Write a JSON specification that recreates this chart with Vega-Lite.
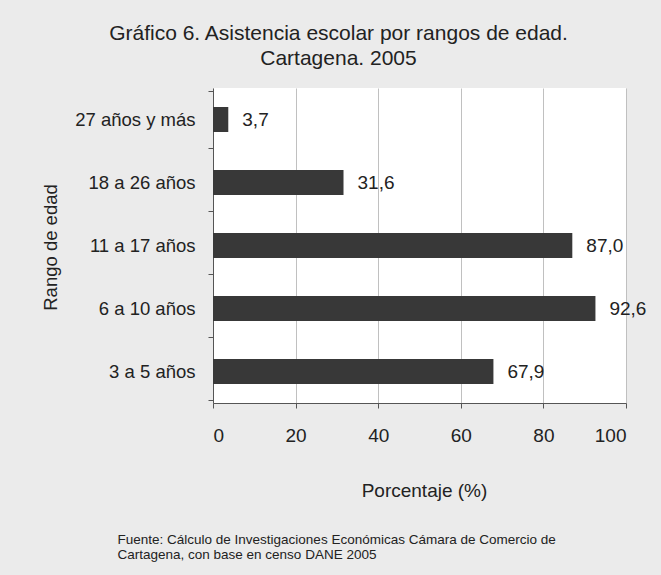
{
  "$schema": "https://vega.github.io/schema/vega-lite/v6.json",
  "width": 413,
  "height": 315,
  "autosize": {"type": "none"},
  "padding": {"left": 213, "top": 88, "right": 35, "bottom": 172},
  "background": "#ebebeb",
  "config": {
    "font": "Liberation Sans",
    "view": {"fill": "white", "stroke": null}
  },
  "title": {
    "text": ["Gráfico 6. Asistencia escolar por rangos de edad.", "Cartagena.  2005"],
    "fontSize": 21,
    "fontWeight": "normal",
    "color": "#222222",
    "anchor": "middle",
    "frame": "group",
    "dx": -81,
    "offset": 10,
    "lineHeight": 25
  },
  "data": {
    "values": [
      {"rango": "27 años y más", "valor": 3.7, "etiqueta": "3,7"},
      {"rango": "18 a 26 años", "valor": 31.6, "etiqueta": "31,6"},
      {"rango": "11 a 17 años", "valor": 87.0, "etiqueta": "87,0"},
      {"rango": "6 a 10 años", "valor": 92.6, "etiqueta": "92,6"},
      {"rango": "3 a 5 años", "valor": 67.9, "etiqueta": "67,9"}
    ]
  },
  "layer": [
    {
      "mark": {"type": "bar", "color": "#383838", "height": 25},
      "encoding": {
        "y": {
          "field": "rango",
          "type": "nominal",
          "sort": null,
          "axis": {
            "title": "Rango de edad",
            "titleFontSize": 18.5,
            "titleFontWeight": "normal",
            "titleColor": "#222222",
            "titleX": -153,
            "titleY": 159,
            "titleAngle": -90,
            "labelFontSize": 18.5,
            "labelColor": "#222222",
            "labelPadding": 13,
            "tickBand": "extent",
            "tickSize": 5,
            "tickColor": "#555555",
            "domainColor": "#555555",
            "grid": false
          }
        },
        "x": {
          "field": "valor",
          "type": "quantitative",
          "scale": {"domain": [0, 100], "nice": false},
          "axis": {
            "orient": "bottom",
            "title": "Porcentaje (%)",
            "titleFontSize": 19,
            "titleFontWeight": "normal",
            "titleColor": "#222222",
            "titlePadding": 36,
            "titleX": 211,
            "values": [0, 20, 40, 60, 80, 100],
            "labelFontSize": 19,
            "labelColor": "#222222",
            "labelPadding": 18,
            "tickSize": 5,
            "tickColor": "#555555",
            "domainColor": "#555555",
            "grid": true,
            "gridColor": "#c0c0c0"
          }
        }
      }
    },
    {
      "mark": {"type": "text", "align": "left", "dx": 14, "fontSize": 19, "color": "#222222"},
      "encoding": {
        "y": {"field": "rango", "type": "nominal", "sort": null},
        "x": {
          "field": "valor",
          "type": "quantitative",
          "scale": {"domain": [0, 100], "nice": false},
          "axis": {
            "orient": "bottom",
            "title": ["Fuente: Cálculo de Investigaciones  Económicas Cámara de Comercio de", "Cartagena, con base en censo DANE 2005"],
            "titleFontSize": 13.5,
            "titleFontWeight": "normal",
            "titleColor": "#222222",
            "titleAnchor": "start",
            "titleAlign": "left",
            "titleX": -96,
            "titlePadding": 129,
            "titleLineHeight": 15,
            "labels": false,
            "ticks": false,
            "domain": false,
            "grid": false
          }
        },
        "text": {"field": "etiqueta"}
      }
    }
  ],
  "resolve": {"scale": {"x": "independent"}, "axis": {"x": "independent"}}
}
